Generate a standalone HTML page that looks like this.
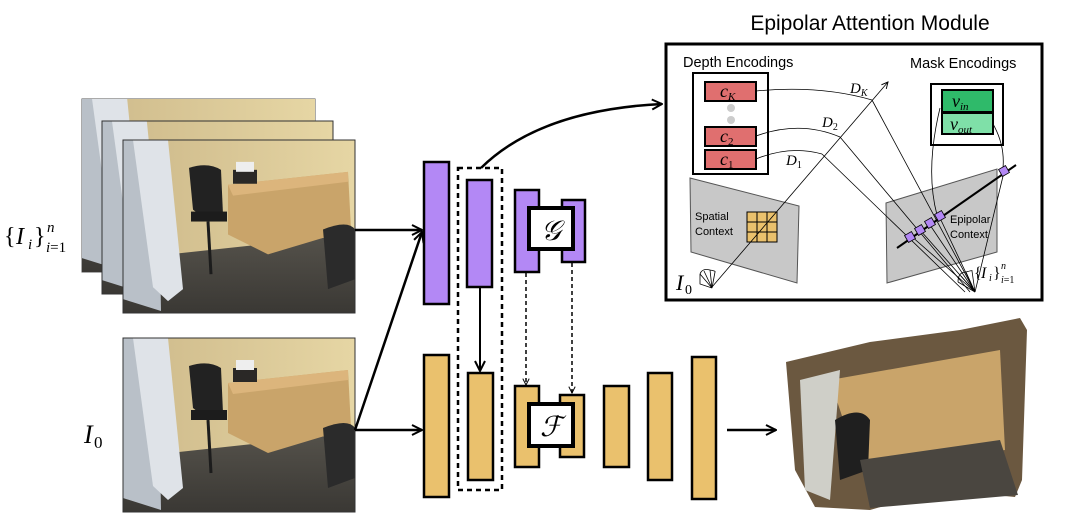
<!DOCTYPE html>
<html><head><meta charset="utf-8"><style>
html,body{margin:0;padding:0;background:#fff;}
svg{display:block;}
text{font-family:"Liberation Sans",sans-serif;}
.m{font-family:"Liberation Serif",serif;font-style:italic;}
.r{font-family:"Liberation Serif",serif;}
</style></head><body>
<svg width="1074" height="514" viewBox="0 0 1074 514" xmlns="http://www.w3.org/2000/svg">
<defs>
<linearGradient id="wall" x1="0" y1="0" x2="1" y2="0"><stop offset="0" stop-color="#cdb98a"/><stop offset="1" stop-color="#e6d6a4"/></linearGradient>
<linearGradient id="carpet" x1="0" y1="0" x2="0" y2="1"><stop offset="0" stop-color="#55524b"/><stop offset="1" stop-color="#3a3834"/></linearGradient>
<symbol id="photo" viewBox="0 0 232 174" preserveAspectRatio="none">
<rect width="232" height="174" fill="url(#wall)"/>
<polygon points="0,120 232,95 232,174 0,174" fill="url(#carpet)"/>
<polygon points="0,0 35,0 38,172 0,160" fill="#b9c0c8"/>
<polygon points="10,0 45,0 60,150 45,162 30,148" fill="#dfe3e8"/>
<polygon points="105,45 225,32 228,90 145,115 105,95" fill="#c9a46a"/>
<polygon points="105,45 225,32 225,42 110,56" fill="#dcb57c"/>
<path d="M66,28 Q85,22 98,30 L100,75 L80,78 L70,70 Z" fill="#222"/>
<rect x="68" y="72" width="36" height="10" fill="#1c1c1c"/>
<line x1="85" y1="82" x2="88" y2="135" stroke="#1c1c1c" stroke-width="3"/>
<rect x="110" y="30" width="24" height="14" fill="#2a2826"/>
<rect x="113" y="22" width="18" height="10" fill="#eee"/>
<path d="M200,90 Q225,80 232,90 L232,140 L205,150 Z" fill="#2b2b2b"/>
</symbol>
<marker id="ah" viewBox="0 0 12 12" refX="11" refY="6" markerWidth="12" markerHeight="12" markerUnits="userSpaceOnUse" orient="auto"><path d="M1,1 L11,6 L1,11" fill="none" stroke="#000" stroke-width="2"/></marker>
<marker id="ahs" viewBox="0 0 10 10" refX="9" refY="5" markerWidth="8" markerHeight="8" markerUnits="userSpaceOnUse" orient="auto"><path d="M1,1 L9,5 L1,9" fill="none" stroke="#000" stroke-width="1.2"/></marker>
</defs>

<rect x="82" y="99" width="233" height="173" fill="#ddd" stroke="#555" stroke-width="1"/>
<use href="#photo" x="82" y="99" width="233" height="173"/>
<use href="#photo" x="102" y="121" width="231" height="173"/>
<rect x="102" y="121" width="231" height="173" fill="none" stroke="#333"/>
<use href="#photo" x="123" y="140" width="232" height="173"/>
<rect x="123" y="140" width="232" height="173" fill="none" stroke="#333"/>
<use href="#photo" x="123" y="338" width="232" height="174"/>
<rect x="123" y="338" width="232" height="174" fill="none" stroke="#333"/>

<text class="r" x="4" y="244" font-size="24">{</text>
<text class="m" x="16" y="244" font-size="24">I</text>
<text class="m" x="28" y="249" font-size="15">i</text>
<text class="r" x="34" y="244" font-size="24">}</text>
<text class="m" x="47" y="232" font-size="15">n</text>
<text class="m" x="46" y="252" font-size="15">i<tspan font-style="normal">=1</tspan></text>
<text class="m" x="84" y="443" font-size="26">I</text>
<text class="r" x="94" y="448" font-size="17">0</text>

<g stroke="#000" stroke-width="2.5" fill="none">
<line x1="355" y1="230" x2="422" y2="230" marker-end="url(#ah)"/>
<line x1="355" y1="430" x2="422" y2="232" marker-end="url(#ah)"/>
<line x1="355" y1="430" x2="422" y2="430" marker-end="url(#ah)"/>
<path d="M481,168 Q540,110 662,104" marker-end="url(#ah)"/>
<line x1="727" y1="430" x2="776" y2="430" marker-end="url(#ah)"/>
</g>

<g stroke="#000" stroke-width="2.5">
<rect x="424" y="162" width="25" height="142" fill="#b388f5"/>
<rect x="467" y="180" width="25" height="107" fill="#b388f5"/>
<rect x="515" y="190" width="24" height="82" fill="#b388f5"/>
<rect x="562" y="200" width="23" height="62" fill="#b388f5"/>
<rect x="424" y="355" width="25" height="142" fill="#eac16d"/>
<rect x="468" y="373" width="25" height="107" fill="#eac16d"/>
<rect x="515" y="386" width="24" height="81" fill="#eac16d"/>
<rect x="560" y="395" width="24" height="62" fill="#eac16d"/>
<rect x="604" y="386" width="25" height="81" fill="#eac16d"/>
<rect x="648" y="373" width="24" height="107" fill="#eac16d"/>
<rect x="692" y="357" width="24" height="142" fill="#eac16d"/>
<rect x="529" y="208" width="44" height="41" fill="#fff" stroke-width="4"/>
<rect x="529" y="404" width="44" height="42" fill="#fff" stroke-width="4"/>
</g>
<text class="m" x="551" y="240" font-size="28" text-anchor="middle">𝒢</text>
<text class="m" x="551" y="436" font-size="28" text-anchor="middle">ℱ</text>
<rect x="458" y="168" width="44" height="322" fill="none" stroke="#000" stroke-width="2.5" stroke-dasharray="5,4"/>
<line x1="480" y1="287" x2="480" y2="371" stroke="#000" stroke-width="2" marker-end="url(#ah)"/>
<g stroke="#000" stroke-width="1.5" stroke-dasharray="4,3" fill="none">
<line x1="526" y1="273" x2="526" y2="385" marker-end="url(#ahs)"/>
<line x1="572" y1="263" x2="572" y2="393" marker-end="url(#ahs)"/>
</g>

<polygon points="786,362 870,342 960,330 1020,318 1027,330 1022,480 1015,497 940,490 870,510 815,507 795,470" fill="#6b5840"/>
<polygon points="830,380 1000,350 1005,450 860,470" fill="#c9a46a"/>
<polygon points="800,380 840,370 830,500 805,490" fill="#cfcfc8"/>
<path d="M835,420 Q860,405 870,420 L868,470 L840,480 Z" fill="#1f1f1f"/>
<polygon points="860,460 1000,440 1018,495 870,508" fill="#4a4640"/>

<text x="870" y="30" font-size="21" text-anchor="middle">Epipolar Attention Module</text>
<rect x="666" y="44" width="376" height="256" fill="#fff" stroke="#000" stroke-width="3"/>
<text x="683" y="67" font-size="14.5">Depth Encodings</text>
<text x="910" y="68" font-size="14.5">Mask Encodings</text>
<rect x="693" y="73" width="75" height="101" fill="#fff" stroke="#000" stroke-width="2"/>
<g stroke="#000" stroke-width="2" fill="#e06f6f">
<rect x="705" y="82" width="51" height="19"/>
<rect x="705" y="127" width="51" height="19"/>
<rect x="705" y="150" width="51" height="19"/>
</g>
<circle cx="731" cy="108" r="4" fill="#ccc"/><circle cx="731" cy="120" r="4" fill="#ccc"/>
<text class="m" x="720" y="97" font-size="18">c<tspan font-size="11" dy="3">K</tspan></text>
<text class="m" x="720" y="142" font-size="18">c<tspan font-style="normal" font-size="11" dy="3">2</tspan></text>
<text class="m" x="720" y="165" font-size="18">c<tspan font-style="normal" font-size="11" dy="3">1</tspan></text>
<rect x="931" y="84" width="72" height="61" fill="#fff" stroke="#000" stroke-width="2"/>
<rect x="942" y="90" width="51" height="22" fill="#2fba6a" stroke="#000" stroke-width="2"/>
<rect x="942" y="113" width="51" height="21" fill="#7fe0a8" stroke="#000" stroke-width="2"/>
<text class="m" x="952" y="107" font-size="18">v<tspan font-size="11" dy="3">in</tspan></text>
<text class="m" x="950" y="130" font-size="18">v<tspan font-size="11" dy="3">out</tspan></text>

<polygon points="690,178 799,206 797,283 691,252" fill="#c8c8c8" stroke="#555"/>
<polygon points="886,203 997,169 997,252 887,283" fill="#c8c8c8" stroke="#555"/>
<text x="695" y="220" font-size="11">Spatial</text>
<text x="695" y="235" font-size="11">Context</text>
<text x="950" y="223" font-size="11">Epipolar</text>
<text x="950" y="238" font-size="11">Context</text>
<g stroke="#000" stroke-width="1" fill="#eac16d">
<rect x="747" y="212" width="10" height="10"/><rect x="757" y="212" width="10" height="10"/><rect x="767" y="212" width="10" height="10"/>
<rect x="747" y="222" width="10" height="10"/><rect x="757" y="222" width="10" height="10"/><rect x="767" y="222" width="10" height="10"/>
<rect x="747" y="232" width="10" height="10"/><rect x="757" y="232" width="10" height="10"/><rect x="767" y="232" width="10" height="10"/>
</g>
<g stroke="#000" stroke-width="0.8" fill="none">
<line x1="712" y1="287" x2="888" y2="82" marker-end="url(#ahs)"/>
<path d="M756,91 Q820,85 872,100"/>
<path d="M756,136 Q800,120 840,137"/>
<path d="M756,159 Q790,145 822,154"/>
<line x1="872" y1="100" x2="975" y2="292"/>
<line x1="840" y1="137" x2="970" y2="292"/>
<line x1="822" y1="154" x2="965" y2="292"/>
<line x1="910" y1="235" x2="975" y2="292"/>
<line x1="920" y1="230" x2="975" y2="292"/>
<line x1="930" y1="225" x2="975" y2="292"/>
<line x1="940" y1="218" x2="975" y2="292"/>
<line x1="1004" y1="172" x2="975" y2="292"/>
<path d="M940,108 Q925,170 937,215"/>
<path d="M993,124 Q1005,145 1003,168"/>
<path d="M712,288 L700,274 M712,288 L704,271 M712,288 L710,270 M712,288 L715,272 M700,274 Q702,268 710,270 Q716,271 715,272 M712,288 L700,284 L700,274"/>
<path d="M975,292 L958,282 M975,292 L961,276 M975,292 L966,272 M975,292 L972,271 M958,282 Q958,272 966,272 Q973,270 972,271"/>
</g>
<line x1="897" y1="248" x2="1016" y2="165" stroke="#000" stroke-width="2"/>
<g fill="#b388f5" stroke="#000" stroke-width="0.8">
<rect x="906" y="233" width="8" height="8" transform="rotate(-30 910 237)"/>
<rect x="916" y="226" width="8" height="8" transform="rotate(-30 920 230)"/>
<rect x="926" y="219" width="8" height="8" transform="rotate(-30 930 223)"/>
<rect x="936" y="212" width="8" height="8" transform="rotate(-30 940 216)"/>
<rect x="1000" y="167" width="8" height="8" transform="rotate(-30 1004 171)"/>
</g>
<text class="m" x="850" y="93" font-size="15">D<tspan font-size="10" dy="3">K</tspan></text>
<text class="m" x="822" y="127" font-size="15">D<tspan font-style="normal" font-size="10" dy="3">2</tspan></text>
<text class="m" x="786" y="165" font-size="15">D<tspan font-style="normal" font-size="10" dy="3">1</tspan></text>
<text class="m" x="676" y="290" font-size="22">I</text>
<text class="r" x="685" y="294" font-size="14">0</text>
<text class="r" x="974" y="278" font-size="16">{</text>
<text class="m" x="981" y="278" font-size="16">I</text>
<text class="m" x="989" y="281" font-size="10">i</text>
<text class="r" x="993" y="278" font-size="16">}</text>
<text class="m" x="1001" y="269" font-size="10">n</text>
<text class="m" x="1001" y="283" font-size="10">i<tspan font-style="normal">=1</tspan></text>
</svg>
</body></html>
